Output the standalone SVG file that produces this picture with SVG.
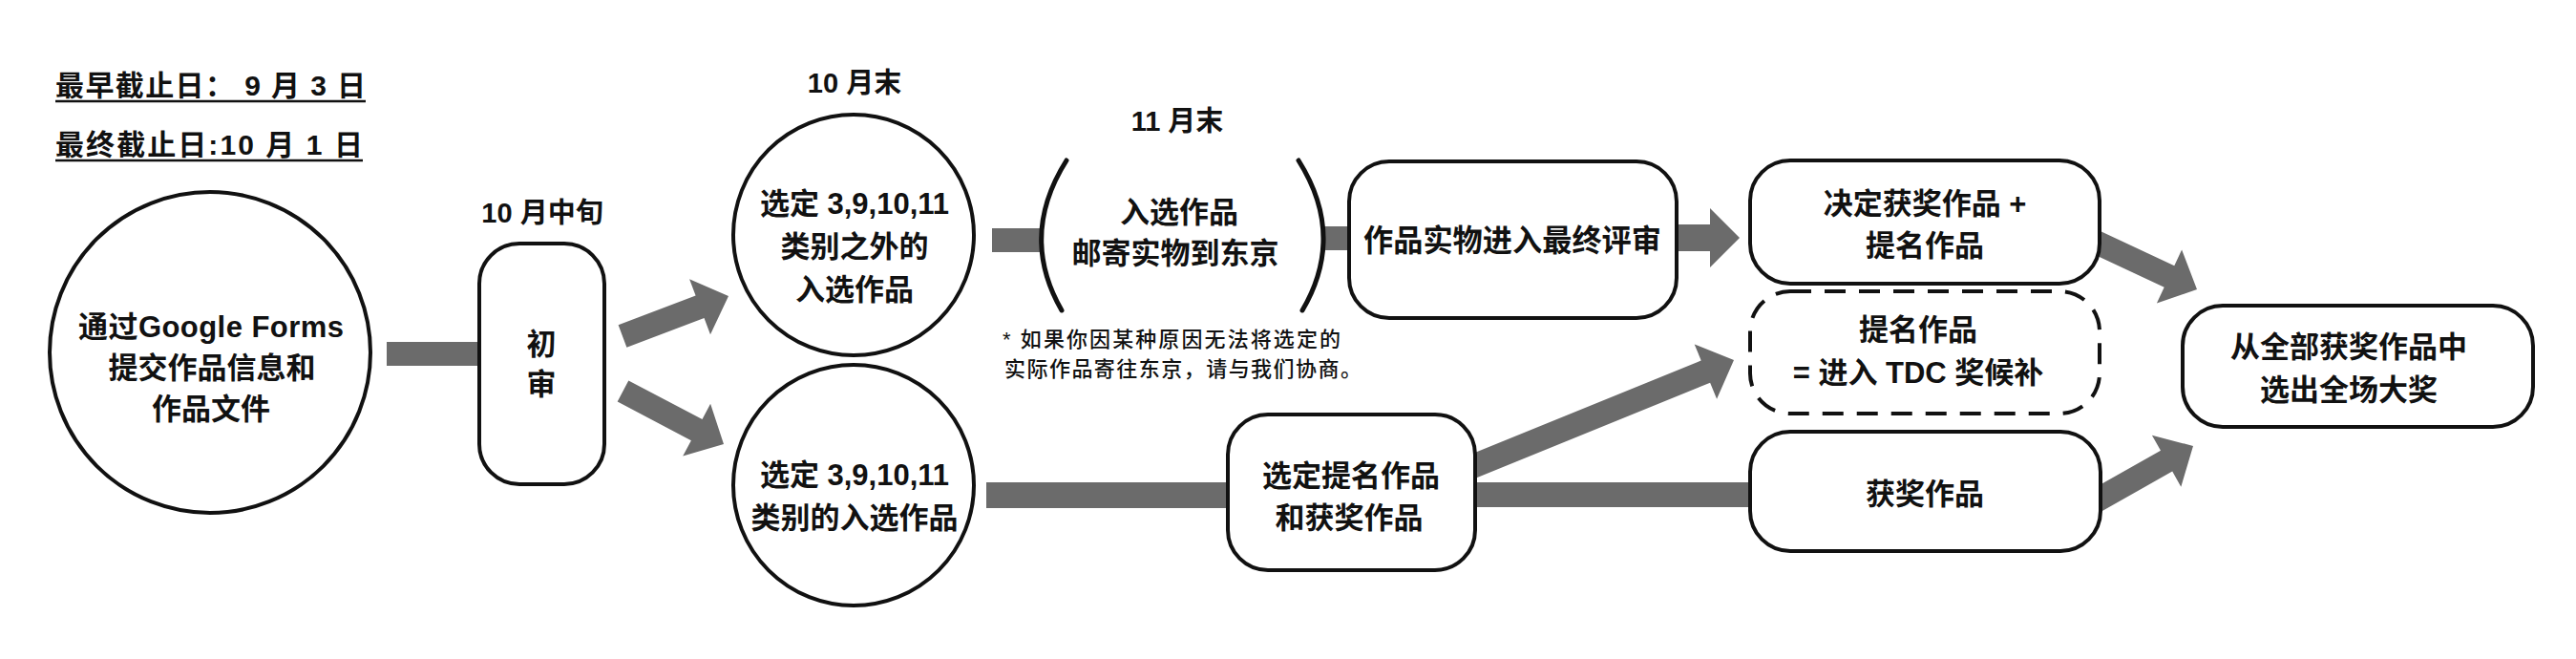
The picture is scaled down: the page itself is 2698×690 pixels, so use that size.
<svg xmlns="http://www.w3.org/2000/svg" width="2698" height="690" viewBox="0 0 2698 690">
<style>
.t{font-family:"Liberation Sans","Noto Sans CJK SC",sans-serif;font-weight:700;fill:#111;text-anchor:middle;dominant-baseline:central;font-size:31px}
.l{font-size:29px}
.d{font-size:30px;text-anchor:start}
.f{font-size:22px;font-weight:500;text-anchor:start}
.n{fill:#fff;stroke:#111;stroke-width:4}
.dash{stroke-dasharray:22 14}
.p{fill:none;stroke:#111;stroke-width:5;stroke-linecap:round}
.c{fill:#6b6b6b;stroke:none}
.u{stroke:#111;stroke-width:2.5}
</style>
<rect width="2698" height="690" fill="#fff"/>
<g id="deadlines">
<text class="t d" x="58" y="89" textLength="325" lengthAdjust="spacing">最早截止日： 9 月 3 日</text>
<line class="u" x1="58" y1="106" x2="383" y2="106"/>
<text class="t d" x="58" y="151" textLength="322" lengthAdjust="spacing">最终截止日:10 月 1 日</text>
<line class="u" x1="58" y1="168" x2="380" y2="168"/>
</g>
<g id="connectors">
<rect class="c" x="405" y="358" width="100" height="25"/>
<polygon class="c" points="656.4,363.7 737.5,333.0 744.0,350.3 763,310 722.1,292.3 728.6,309.6 647.6,340.3"/>
<polygon class="c" points="646.7,420.6 723.9,461.2 715.2,477.5 758,465 744.1,422.7 735.5,439.0 658.3,398.4"/>
<rect class="c" x="1039" y="239" width="54" height="25"/>
<rect class="c" x="1384" y="237" width="32" height="25"/>
<polygon class="c" points="1740,235 1791,235 1791,218 1822,249 1791,280 1791,263 1740,263"/>
<rect class="c" x="1033" y="505" width="256" height="27"/>
<polygon class="c" points="1542.9,501.7 1791.1,400.7 1798.1,417.8 1816,377 1774.7,360.4 1781.7,377.5 1533.5,478.5"/>
<rect class="c" x="1540" y="505" width="296" height="26"/>
<polygon class="c" points="2168.9,255.1 2266.7,300.8 2258.9,317.6 2301,303 2285.1,261.4 2277.3,278.2 2179.5,232.5"/>
<polygon class="c" points="2189.9,541.7 2275.2,493.6 2284.3,509.7 2297,467 2253.9,455.7 2263.0,471.8 2177.7,519.9"/>
</g>
<g id="submit">
<circle class="n" cx="220" cy="369" r="168"/>
<text class="t" x="221" y="342" textLength="278" lengthAdjust="spacing">通过Google Forms</text>
<text class="t" x="222" y="385">提交作品信息和</text>
<text class="t" x="221" y="428">作品文件</text>
</g>
<g id="first-review">
<text class="t l" x="568" y="223">10 月中旬</text>
<rect class="n" x="502" y="255" width="131" height="252" rx="42" ry="42"/>
<text class="t" x="567" y="360">初</text>
<text class="t" x="567" y="402">审</text>
</g>
<g id="selected-other">
<text class="t l" x="895" y="87">10 月末</text>
<circle class="n" cx="894" cy="246" r="126"/>
<text class="t" x="895" y="213">选定 3,9,10,11</text>
<text class="t" x="895" y="258">类别之外的</text>
<text class="t" x="895" y="303">入选作品</text>
</g>
<g id="selected-3-9-10-11">
<circle class="n" cx="894" cy="508" r="126"/>
<text class="t" x="895" y="497">选定 3,9,10,11</text>
<text class="t" x="895" y="542">类别的入选作品</text>
</g>
<g id="ship">
<text class="t l" x="1233" y="127">11 月末</text>
<path class="p" d="M1117,168 Q1067,247 1112,325"/>
<path class="p" d="M1360,168 Q1410,247 1364,325"/>
<text class="t" x="1235" y="222">入选作品</text>
<text class="t" x="1231" y="265">邮寄实物到东京</text>
<text class="t f" x="1050" y="355" textLength="354" lengthAdjust="spacing">* 如果你因某种原因无法将选定的</text>
<text class="t f" x="1052" y="386" textLength="374" lengthAdjust="spacing">实际作品寄往东京，请与我们协商。</text>
</g>
<g id="final-review">
<rect class="n" x="1413" y="169" width="343" height="164" rx="42" ry="42"/>
<text class="t" x="1584" y="252" style="font-size:32px" textLength="312" lengthAdjust="spacingAndGlyphs">作品实物进入最终评审</text>
</g>
<g id="select-nominees">
<rect class="n" x="1286" y="434" width="259" height="163" rx="42" ry="42"/>
<text class="t" x="1415" y="498">选定提名作品</text>
<text class="t" x="1413" y="542">和获奖作品</text>
</g>
<g id="decide">
<rect class="n" x="1833" y="168" width="366" height="129" rx="42" ry="42"/>
<text class="t" x="2016" y="213">决定获奖作品 +</text>
<text class="t" x="2016" y="257">提名作品</text>
</g>
<g id="nominees">
<rect class="n dash" x="1833" y="305" width="366" height="128" rx="42" ry="42"/>
<text class="t" x="2009" y="345">提名作品</text>
<text class="t" x="2009" y="390">= 进入 TDC 奖候补</text>
</g>
<g id="winners">
<rect class="n" x="1833" y="452" width="367" height="125" rx="42" ry="42"/>
<text class="t" x="2016" y="517">获奖作品</text>
</g>
<g id="grand-prize">
<rect class="n" x="2286" y="320" width="367" height="127" rx="42" ry="42"/>
<text class="t" x="2460" y="363">从全部获奖作品中</text>
<text class="t" x="2460" y="408">选出全场大奖</text>
</g>
</svg>
